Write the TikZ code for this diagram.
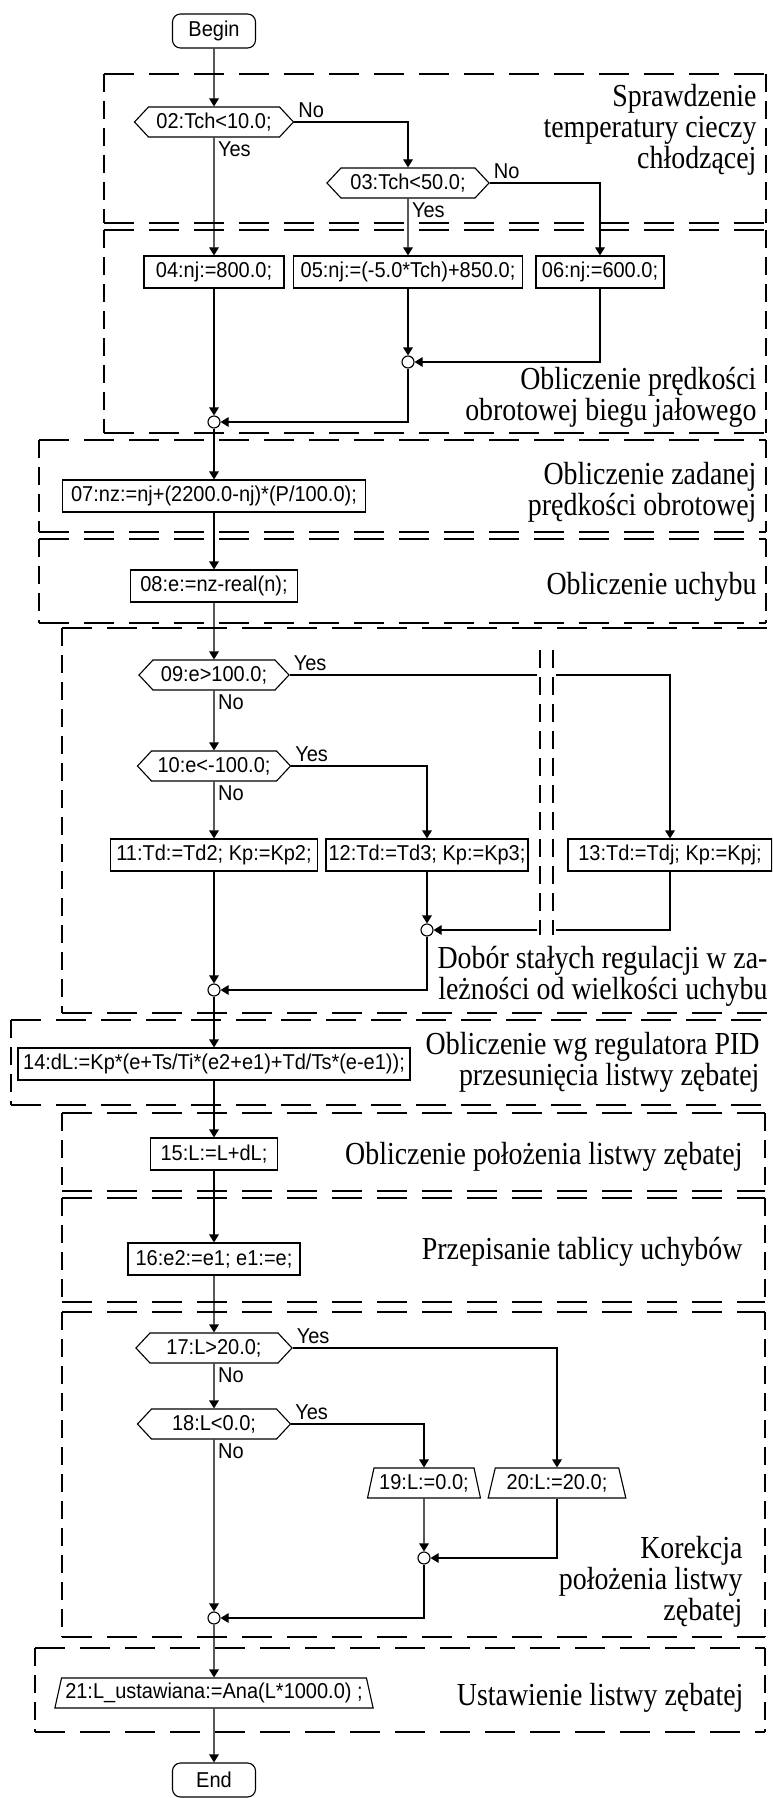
\documentclass[tikz,border=0pt]{standalone}
\usepackage{fontspec}
\usetikzlibrary{arrows.meta,shapes.geometric,shapes.symbols}
\newfontfamily\nodefont[FakeStretch=0.93]{Liberation Sans}
\newfontfamily\headfont[FakeStretch=0.87]{Liberation Serif}

\begin{document}
\begin{tikzpicture}[>={Triangle[length=0.2cm,width=0.24cm]},line width=0.8pt,
  font=\nodefont\fontsize{15.3}{17}\selectfont,
  hdash/.style={dash pattern=on 0.75cm off 0.375cm},
  vdash/.style={dash pattern=on 0.45cm off 0.225cm},
  proc/.style={draw,rectangle,minimum height=0.8cm,inner sep=0pt},
  term/.style={draw,rounded corners=0.2cm,minimum width=2.075cm,minimum height=0.85cm,inner sep=0pt},
  cond/.style={draw,signal,signal to=west and east,signal pointer angle=94,minimum height=0.75cm,inner sep=0pt},
  io/.style={draw,trapezium,trapezium left angle=72,trapezium right angle=72,trapezium stretches=true,minimum height=0.75cm,inner sep=0pt},
  jn/.style={draw,circle,fill=white,inner sep=0pt,minimum size=0.3cm},
  lbl/.style={inner sep=2.5pt},
  head/.style={anchor=east,align=right,inner sep=0pt,font=\headfont\fontsize{22.8}{22}\selectfont}]
  \clip (0,0) rectangle (19.3,-44.95);
  \fill[white] (0,0) rectangle (19.3,-44.95);

  % bloki (ramki kreskowe)
  \draw[hdash] (2.6,-1.85) -- (19.15,-1.85) (2.6,-5.575) -- (19.15,-5.575);
  \draw[vdash] (2.6,-1.85) -- (2.6,-5.575) (19.15,-1.85) -- (19.15,-5.575);
  \draw[hdash] (2.6,-5.75) -- (19.15,-5.75) (2.6,-10.825) -- (19.15,-10.825);
  \draw[vdash] (2.6,-5.75) -- (2.6,-10.825) (19.15,-5.75) -- (19.15,-10.825);
  \draw[hdash] (0.975,-11.0) -- (19.15,-11.0) (0.975,-13.3) -- (19.15,-13.3);
  \draw[vdash] (0.975,-11.0) -- (0.975,-13.3) (19.15,-11.0) -- (19.15,-13.3);
  \draw[hdash] (0.975,-13.475) -- (19.15,-13.475) (0.975,-15.575) -- (19.15,-15.575);
  \draw[vdash] (0.975,-13.475) -- (0.975,-15.575) (19.15,-13.475) -- (19.15,-15.575);
  \draw[hdash] (1.55,-15.7) -- (19.6,-15.7) (1.55,-25.325) -- (19.6,-25.325);
  \draw[vdash] (1.55,-15.7) -- (1.55,-25.325) (19.6,-15.7) -- (19.6,-25.325);
  \draw[vdash] (13.5,-16.25) -- (13.5,-23.375) (13.825,-16.25) -- (13.825,-23.375);
  \draw[hdash] (0.275,-25.5) -- (19.6,-25.5) (0.275,-27.625) -- (19.6,-27.625);
  \draw[vdash] (0.275,-25.5) -- (0.275,-27.625) (19.6,-25.5) -- (19.6,-27.625);
  \draw[hdash] (1.55,-27.825) -- (19.125,-27.825) (1.55,-29.775) -- (19.125,-29.775);
  \draw[vdash] (1.55,-27.825) -- (1.55,-29.775) (19.125,-27.825) -- (19.125,-29.775);
  \draw[hdash] (1.55,-29.95) -- (19.125,-29.95) (1.55,-32.55) -- (19.125,-32.55);
  \draw[vdash] (1.55,-29.95) -- (1.55,-32.55) (19.125,-29.95) -- (19.125,-32.55);
  \draw[hdash] (1.55,-32.8) -- (19.125,-32.8) (1.55,-40.925) -- (19.125,-40.925);
  \draw[vdash] (1.55,-32.8) -- (1.55,-40.925) (19.125,-32.8) -- (19.125,-40.925);
  \draw[hdash] (0.875,-41.2) -- (19.125,-41.2) (0.875,-43.3) -- (19.125,-43.3);
  \draw[vdash] (0.875,-41.2) -- (0.875,-43.3) (19.125,-41.2) -- (19.125,-43.3);

  % opisy blokow
  \node[head] (h1) at (18.925,-3.25) {Sprawdzenie\\temperatury cieczy\\chłodzącej};
  \node[head] (h2) at (18.925,-9.925) {Obliczenie prędkości\\obrotowej biegu jałowego};
  \node[head] (h3) at (18.925,-12.3) {Obliczenie zadanej\\prędkości obrotowej};
  \node[head] (h4) at (18.925,-14.675) {Obliczenie uchybu};
  \node[head] (h5) at (19.2,-24.4) {Dobór stałych regulacji w za-\\leżności od wielkości uchybu};
  \node[head] (h6) at (19.0,-26.55) {Obliczenie wg regulatora PID\\przesunięcia listwy zębatej};
  \node[head] (h7) at (18.575,-28.925) {Obliczenie położenia listwy zębatej};
  \node[head] (h8) at (18.575,-31.3) {Przepisanie tablicy uchybów};
  \node[head] (h9) at (18.575,-39.55) {Korekcja\\położenia listwy\\zębatej};
  \node[head] (h10) at (18.6,-42.45) {Ustawienie listwy zębatej};

  % kroki algorytmu
  \node[term] (start) at (5.35,-0.775) {Begin};
  \node[cond,minimum width=3.975cm] (d02) at (5.35,-3.05) {02:Tch<10.0;};
  \node[cond,minimum width=4.05cm] (d03) at (10.2,-4.575) {03:Tch<50.0;};
  \node[proc,minimum width=3.5cm] (p04) at (5.35,-6.8) {04:nj:=800.0;};
  \node[proc,minimum width=5.725cm] (p05) at (10.2,-6.8) {05:nj:=(-5.0*Tch)+850.0;};
  \node[proc,minimum width=3.2cm] (p06) at (15.0,-6.8) {06:nj:=600.0;};
  \node[jn] (j1) at (10.2,-9.05) {};
  \node[jn] (j2) at (5.35,-10.55) {};
  \node[proc,minimum width=7.575cm] (p07) at (5.35,-12.4) {07:nz:=nj+(2200.0-nj)*(P/100.0);};
  \node[proc,minimum width=4.175cm] (p08) at (5.35,-14.65) {08:e:=nz-real(n);};
  \node[cond,minimum width=3.75cm] (d09) at (5.35,-16.875) {09:e>100.0;};
  \node[cond,minimum width=3.825cm] (d10) at (5.35,-19.15) {10:e<-100.0;};
  \node[proc,minimum width=5.175cm] (p11) at (5.35,-21.375) {11:Td:=Td2; Kp:=Kp2;};
  \node[proc,minimum width=5.05cm] (p12) at (10.675,-21.375) {12:Td:=Td3; Kp:=Kp3;};
  \node[proc,minimum width=5.1cm] (p13) at (16.75,-21.375) {13:Td:=Tdj; Kp:=Kpj;};
  \node[jn] (j3) at (10.675,-23.25) {};
  \node[jn] (j4) at (5.35,-24.75) {};
  \node[proc,minimum width=9.8cm] (p14) at (5.35,-26.6) {14:dL:=Kp*(e+Ts/Ti*(e2+e1)+Td/Ts*(e-e1));};
  \node[proc,minimum width=3.175cm] (p15) at (5.35,-28.85) {15:L:=L+dL;};
  \node[proc,minimum width=4.3cm] (p16) at (5.35,-31.475) {16:e2:=e1; e1:=e;};
  \node[cond,minimum width=3.9cm] (d17) at (5.35,-33.7) {17:L>20.0;};
  \node[cond,minimum width=3.825cm] (d18) at (5.35,-35.6) {18:L<0.0;};
  \node[io,minimum width=2.825cm] (p19) at (10.6,-37.075) {19:L:=0.0;};
  \node[io,minimum width=3.45cm] (p20) at (13.925,-37.075) {20:L:=20.0;};
  \node[jn] (j5) at (10.6,-38.95) {};
  \node[jn] (j6) at (5.35,-40.45) {};
  \node[io,minimum width=7.975cm] (p21) at (5.35,-42.325) {21:L\_ustawiana:=Ana(L*1000.0) ;};
  \node[term] (stop) at (5.35,-44.5) {End};

  % przerwa w linii miedzy kreskami
  \coordinate (g1) at (13.425,-16.875);
  \coordinate (g2) at (13.9,-16.875);
  \coordinate (g3) at (13.425,-23.25);
  \coordinate (g4) at (13.9,-23.25);

  % etykiety galezi
  \node[lbl,above right] (n02) at (d02.east) {No};
  \node[lbl,below right] (y02) at (d02.south) {Yes};
  \node[lbl,above right] (n03) at (d03.east) {No};
  \node[lbl,below right] (y03) at (d03.south) {Yes};
  \node[lbl,above right] (y09) at (d09.east) {Yes};
  \node[lbl,below right] (n09) at (d09.south) {No};
  \node[lbl,above right] (y10) at (d10.east) {Yes};
  \node[lbl,below right] (n10) at (d10.south) {No};
  \node[lbl,above right] (y17) at (d17.east) {Yes};
  \node[lbl,below right] (n17) at (d17.south) {No};
  \node[lbl,above right] (y18) at (d18.east) {Yes};
  \node[lbl,below right] (n18) at (d18.south) {No};

  % polaczenia
  \draw[->] (start) -- (d02);
  \draw[->] (d02) -- (p04);
  \draw[->] (d02.east) -| (d03);
  \draw[->] (d03) -- (p05);
  \draw[->] (d03.east) -| (p06);
  \draw[->] (p05) -- (j1);
  \draw[->] (p06) |- (j1);
  \draw[->] (p04) -- (j2);
  \draw[->] (j1) |- (j2);
  \draw[->] (j2) -- (p07);
  \draw[->] (p07) -- (p08);
  \draw[->] (p08) -- (d09);
  \draw[->] (d09) -- (d10);
  \draw (d09.east) -- (g1);
  \draw[->] (g2) -| (p13);
  \draw[->] (d10) -- (p11);
  \draw[->] (d10.east) -| (p12);
  \draw[->] (p12) -- (j3);
  \draw (p13) |- (g4);
  \draw[->] (g3) -- (j3);
  \draw[->] (p11) -- (j4);
  \draw[->] (j3) |- (j4);
  \draw[->] (j4) -- (p14);
  \draw[->] (p14) -- (p15);
  \draw[->] (p15) -- (p16);
  \draw[->] (p16) -- (d17);
  \draw[->] (d17) -- (d18);
  \draw[->] (d17.east) -| (p20);
  \draw[->] (d18.east) -| (p19);
  \draw[->] (p19) -- (j5);
  \draw[->] (p20) |- (j5);
  \draw[->] (d18) -- (j6);
  \draw[->] (j5) |- (j6);
  \draw[->] (j6) -- (p21);
  \draw[->] (p21) -- (stop);
\end{tikzpicture}
\end{document}
